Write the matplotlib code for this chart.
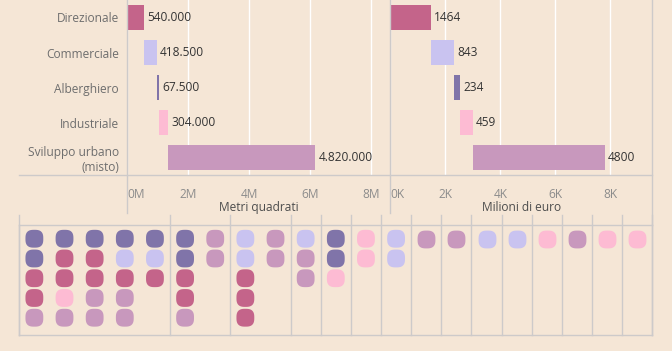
import numpy as np
import matplotlib
matplotlib.use("Agg")
import matplotlib.pyplot as plt
from matplotlib.lines import Line2D
from matplotlib.path import Path

# Dati
categorie = ["Direzionale", "Commerciale", "Alberghiero", "Industriale", "Sviluppo urbano\n(misto)"]
chiavi = ["D", "C", "A", "I", "S"]
metri_quadrati = [540000, 418500, 67500, 304000, 4820000]
milioni_euro = [1464, 843, 234, 459, 4800]

tick_mq = [0, 2, 4, 6, 8]
tick_mq_lab = ["0M", "2M", "4M", "6M", "8M"]
tick_eur = [0, 2, 4, 6, 8]
tick_eur_lab = ["0K", "2K", "4K", "6K", "8K"]

# Griglia di progetti (colonne, dall'alto verso il basso)
colonne_punti = [
    ["A", "A", "D", "D", "S"],
    ["A", "D", "D", "I", "S"],
    ["A", "D", "D", "S", "S"],
    ["A", "C", "D", "S", "S"],
    ["A", "C", "D"],
    ["A", "A", "D", "D", "S"],
    ["S", "S"],
    ["C", "C", "D", "D", "D"],
    ["S", "S"],
    ["C", "S", "S"],
    ["A", "A", "I"],
    ["I", "I"],
    ["C", "C"],
    ["S"],
    ["S"],
    ["C"],
    ["C"],
    ["I"],
    ["S"],
    ["I"],
    ["I"],
]
separatori = [5, 7, 9, 10, 11, 12, 13, 14, 15, 16, 17, 18, 19, 20]

colori = {"D": "#c4648a", "C": "#c9c3f0", "A": "#8074a9", "I": "#fdbbd3", "S": "#c898bd"}

BG = "#f5e6d6"
LINEA = "#cdcaca"
W, H = 672, 351
FS = 8.6

plt.rcParams['font.family'] = ['Open Sans', 'DejaVu Sans']

fig = plt.figure(figsize=(W / 100, H / 100), dpi=100, facecolor=BG)


def box(x0, y0, x1, y1):
    # coordinate in pixel (origine in alto a sinistra)
    return [x0 / W, 1 - y1 / H, (x1 - x0) / W, (y1 - y0) / H]


ax1 = fig.add_axes(box(127.3, 0, 390.3, 175))
ax2 = fig.add_axes(box(390.3, 0, 652.3, 175))
ax3 = fig.add_axes(box(19.3, 225.3, 652.3, 335.3))

y = np.arange(len(categorie))


def pannello(ax, valori, scala, xmax, ticks, tick_lab, titolo, fmt):
    ax.set_facecolor(BG)
    val = np.array(valori) / scala
    inizio = np.concatenate([[0], np.cumsum(val)[:-1]])
    ax.barh(y, val, left=inizio, height=0.74,
            color=[colori[k] for k in chiavi], zorder=3)
    for yi, v, s, vv in zip(y, val, inizio, valori):
        ax.text(s + v + xmax * 0.013, yi, fmt(vv), va="center", ha="left",
                fontsize=FS, color="#333333", zorder=4)
    ax.set_xlim(0, xmax)
    ax.set_ylim(len(categorie) - 0.5, -0.5)
    ax.set_xticks(ticks)
    ax.set_xticklabels(tick_lab)
    ax.get_xticklabels()[0].set_ha("left")
    ax.tick_params(axis="x", length=0, pad=9, labelsize=FS, labelcolor="#8c8c8c")
    ax.grid(axis="x", color="white", linewidth=1, zorder=1)
    for s in ax.spines.values():
        s.set_visible(False)
    ax.axvline(0, ymin=-38 / 175, ymax=1, color=LINEA, linewidth=1,
               clip_on=False, zorder=5)
    ax.text(0.5, -32 / 175, titolo, transform=ax.transAxes, ha="center",
            va="center", fontsize=FS, color="#4d4d4d")


pannello(ax1, metri_quadrati, 1e6, 263 / 30.5, tick_mq, tick_mq_lab,
         "Metri quadrati", lambda v: f"{v:,}".replace(",", "."))
pannello(ax2, milioni_euro, 1e3, 262 / 27.5, tick_eur, tick_eur_lab,
         "Milioni di euro", lambda v: f"{v}")

ax1.set_yticks(y)
ax1.set_yticklabels(categorie, ha="right", linespacing=1.15)
ax1.tick_params(axis="y", length=0, pad=6, labelsize=FS, labelcolor="#6e6e6e")
ax2.set_yticks([])
ax2.axvline(ax2.get_xlim()[1], ymin=-50 / 175, ymax=1, color=LINEA,
            linewidth=1, clip_on=False, zorder=5)

# linea orizzontale sotto i pannelli
fig.add_artist(Line2D([19.3 / W, 652.3 / W], [1 - 175 / H, 1 - 175 / H],
                      color=LINEA, linewidth=1))

# marker quadrato arrotondato
t = np.linspace(0, 2 * np.pi, 100)
n = 2.8
mx = np.sign(np.cos(t)) * np.abs(np.cos(t)) ** (2 / n)
my = np.sign(np.sin(t)) * np.abs(np.sin(t)) ** (2 / n)
squircle = Path(np.column_stack([mx, my]))

ax3.set_facecolor(BG)
for ci, col in enumerate(colonne_punti):
    xs = np.full(len(col), ci + 0.5)
    ys = np.arange(len(col))
    ax3.scatter(xs, ys, s=165, marker=squircle, c=[colori[k] for k in col],
                linewidths=0, zorder=3)
ax3.set_xlim(0, len(colonne_punti))
ax3.set_ylim(4.89, -0.68)
ax3.set_xticks([])
ax3.set_yticks([])
for s in ax3.spines.values():
    s.set_color(LINEA)
    s.set_linewidth(1)
for sx in [0] + separatori + [len(colonne_punti)]:
    ax3.axvline(sx, ymin=0, ymax=1 + 10 / 110, color=LINEA, linewidth=1,
                clip_on=False, zorder=2)

fig.savefig("out.png", dpi=100, facecolor=BG)
